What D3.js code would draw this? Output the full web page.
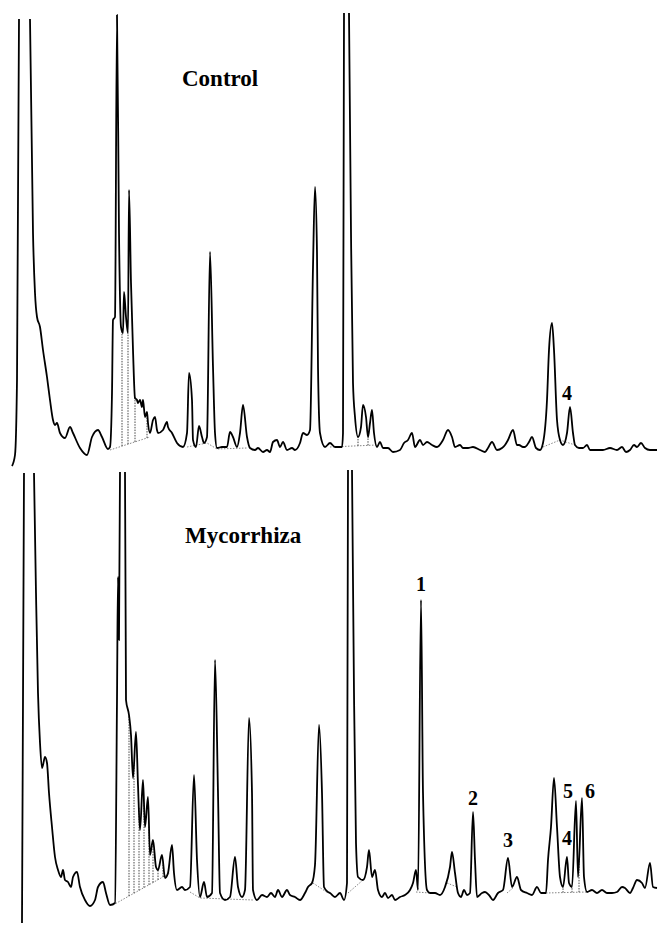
<!DOCTYPE html>
<html>
<head>
<meta charset="utf-8">
<script src="https://cdn.jsdelivr.net/npm/d3@7"></script>
<style>
  html, body { margin: 0; padding: 0; background: #fff; }
  svg { display: block; }
</style>
</head>
<body>
<svg id="chart"></svg>
<script>
const width = 658;
const height = 926;

// retention time (arbitrary units) and detector signal
// NaN = signal off scale (pen leaves the chart)
const controlTrace = [
  [12,4],[15,15],[17,90],[19,451],[24,NaN],[30,451],[33,237],[35,177],[37,153],[40,143],
  [43,120],[47,93],[50,70],[53,50],[55,45],[57,47],[60,37],[65,32],[70,43],[73,37],
  [80,22],[87,15],[92,33],[98,40],[102,33],[108,21],[110,23],[112,77],[113,150],[115,153],
  [117,455],[119,237],[121,143],[123,137],[124,178],[126,153],[128,137],[129,280],[131,187],[133,120],
  [135,72],[137,70],[138,67],[140,70],[142,63],[143,70],[145,53],[147,58],[148,47],[150,37],
  [153,50],[155,53],[157,40],[158,37],[163,40],[167,48],[168,43],[172,37],[177,27],[183,23],
  [187,37],[189,97],[192,70],[193,30],[196,23],[199,44],[202,33],[204,27],[207,33],[210,218],
  [213,103],[215,37],[217,22],[222,23],[227,23],[230,38],[233,33],[237,23],[240,37],[243,65],
  [247,33],[250,22],[255,20],[258,22],[263,18],[267,20],[270,18],[273,28],[277,30],[280,23],
  [283,28],[287,20],[292,22],[295,20],[300,27],[303,37],[307,35],[310,40],[313,203],[315,283],
  [317,217],[318,103],[320,37],[325,23],[330,27],[335,23],[342,23],[343,37],[344,457],[346,NaN],
  [349,457],[351,237],[353,87],[355,53],[358,33],[361,43],[363,65],[366,53],[368,33],[370,47],
  [372,60],[374,37],[377,23],[380,28],[383,22],[388,22],[393,18],[400,20],[404,27],[408,30],
  [412,37],[415,23],[420,30],[423,25],[427,28],[432,25],[437,23],[443,30],[448,40],[452,33],
  [455,23],[460,25],[463,22],[468,22],[473,23],[480,20],[485,18],[488,22],[492,28],[497,20],
  [502,22],[505,25],[508,30],[513,40],[517,25],[519,25],[523,23],[525,23],[529,28],[532,33],
  [536,22],[540,20],[543,27],[547,70],[549,120],[552,147],[554,120],[557,50],[560,30],[563,25],
  [567,37],[570,63],[573,37],[575,25],[579,22],[583,22],[587,25],[590,20],[597,20],[603,20],
  [610,22],[617,20],[622,23],[626,18],[630,20],[634,25],[637,23],[641,27],[645,22],[650,20],
  [657,20]
];

const mycorrhizaTrace = [
  [22,3],[23,226],[24,453],[29,NaN],[34,453],[36,333],[38,233],[40,183],[42,158],[43,161],
  [45,169],[47,163],[49,133],[52,99],[55,69],[58,56],[61,49],[63,56],[65,46],[68,44],
  [71,39],[73,49],[77,54],[80,39],[85,26],[90,20],[95,26],[98,39],[103,44],[106,33],
  [110,21],[115,23],[117,226],[118,349],[119,286],[120,454],[122,NaN],[125,454],[126,226],[129,211],
  [131,191],[133,148],[136,194],[138,141],[140,96],[143,146],[145,99],[148,129],[150,71],[153,86],
  [156,59],[158,56],[162,71],[165,48],[168,53],[172,81],[174,53],[177,36],[182,39],[185,36],
  [190,39],[194,151],[197,66],[200,29],[204,44],[207,29],[212,33],[215,266],[218,133],[220,33],
  [225,26],[230,29],[235,69],[238,39],[242,29],[245,36],[249,208],[252,133],[253,36],[257,26],
  [262,31],[267,29],[271,33],[275,29],[278,36],[282,29],[287,36],[290,31],[295,29],[300,26],
  [305,33],[308,39],[312,43],[315,61],[319,201],[322,133],[324,39],[328,34],[330,33],[335,29],
  [340,33],[344,26],[347,43],[348,456],[350,NaN],[352,456],[354,233],[356,83],[358,49],[363,46],
  [367,59],[369,76],[372,49],[375,56],[378,36],[382,29],[385,33],[388,28],[392,31],[395,26],
  [400,29],[405,31],[410,36],[413,43],[416,56],[418,36],[421,326],[423,133],[427,36],[430,33],
  [435,33],[440,31],[445,39],[450,59],[452,74],[455,53],[458,33],[461,29],[464,36],[467,31],
  [470,33],[473,114],[475,66],[477,29],[482,33],[485,34],[489,31],[493,26],[498,33],[503,36],
  [508,68],[512,39],[517,49],[521,36],[527,33],[532,31],[537,39],[541,33],[546,33],[548,66],
  [551,99],[554,148],[557,99],[560,49],[563,39],[567,69],[569,43],[572,39],[576,125],[578,49],
  [582,128],[584,49],[587,34],[592,36],[597,33],[602,36],[607,33],[612,33],[617,34],[622,39],
  [625,38],[630,33],[633,38],[637,46],[642,43],[645,38],[650,63],[653,39],[657,38]
];

// integrator baselines (dotted) and peak drop lines
const controlBaselines = [
  [[110,20],[150,33]],
  [[187,23],[207,27],[217,21],[247,22]],
  [[330,23],[377,25]],
  [[543,23],[560,30],[575,25]]
];
const controlDrops = [122,128,135,147,358,368];

const mycorrhizaBaselines = [
  [[113,21],[170,53]],
  [[190,34],[200,28],[253,26]],
  [[313,43],[328,33]],
  [[348,33],[363,46]],
  [[416,34],[430,33]],
  [[447,43],[457,39]],
  [[507,33],[513,38]],
  [[546,33],[587,34]]
];
const mycorrhizaDrops = [129,134,139,144,149,153,158,163,563,572,579];

// peak numbers: [label, time, signal]
const controlPeakLabels = [["4",567,70]];
const mycorrhizaPeakLabels = [
  ["1",421,335],["2",473,121],["3",508,79],["4",567,81],["5",568,128],["6",590,128]
];

const panelTitles = ["Control", "Mycorrhiza"];

const svg = d3.select("#chart")
  .attr("width", width)
  .attr("height", height);

const x = d3.scaleLinear().domain([0, 658]).range([0, 658]);
const yTop = d3.scaleLinear().domain([0, 470]).range([470, 0]);
const yBot = d3.scaleLinear().domain([0, 470]).range([926, 456]);

function interp(pts, t) {
  for (let i = 0; i < pts.length - 1; i++) {
    const a = pts[i], b = pts[i + 1];
    if (t >= a[0] && t <= b[0]) {
      if (isNaN(a[1]) || isNaN(b[1])) return NaN;
      return a[1] + (b[1] - a[1]) * (t - a[0]) / (b[0] - a[0]);
    }
  }
  return NaN;
}

function drawPanel(trace, baselines, drops, labels, title, y, titleY) {
  const g = svg.append("g");

  const base = d3.line()
    .x(d => x(d[0]))
    .y(d => y(d[1]));

  g.selectAll("path.base")
    .data(baselines)
    .enter()
    .append("path")
    .attr("class", "base")
    .attr("d", base)
    .attr("fill", "none")
    .attr("stroke", "#666")
    .attr("stroke-width", 0.8)
    .attr("stroke-dasharray", "1.5,1.5");

  g.selectAll("line.drop")
    .data(drops)
    .enter()
    .append("line")
    .attr("class", "drop")
    .attr("x1", d => x(d))
    .attr("x2", d => x(d))
    .attr("y1", d => {
      const bl = baselines.find(b => d >= b[0][0] && d <= b[b.length - 1][0]);
      return y(interp(bl, d));
    })
    .attr("y2", d => y(interp(trace, d)))
    .attr("stroke", "#333")
    .attr("stroke-width", 0.9)
    .attr("stroke-dasharray", "1.5,1.2");

  const line = d3.line()
    .defined(d => !isNaN(d[1]))
    .x(d => x(d[0]))
    .y(d => y(d[1]))
    .curve(d3.curveMonotoneX);

  g.append("path")
    .datum(trace)
    .attr("d", line)
    .attr("fill", "none")
    .attr("stroke", "#000")
    .attr("stroke-width", 1.8)
    .attr("stroke-linejoin", "round");

  g.append("text")
    .attr("x", x(title.x))
    .attr("y", titleY)
    .attr("font-family", "'Liberation Serif', 'Times New Roman', serif")
    .attr("font-weight", "bold")
    .attr("font-size", 23)
    .text(title.text);

  g.selectAll("text.peak")
    .data(labels)
    .enter()
    .append("text")
    .attr("class", "peak")
    .attr("x", d => x(d[1]))
    .attr("y", d => y(d[2]))
    .attr("text-anchor", "middle")
    .attr("font-family", "'Liberation Serif', 'Times New Roman', serif")
    .attr("font-weight", "bold")
    .attr("font-size", 20)
    .text(d => d[0]);
}

drawPanel(controlTrace, controlBaselines, controlDrops, controlPeakLabels,
  { text: panelTitles[0], x: 182 }, yTop, 86);
drawPanel(mycorrhizaTrace, mycorrhizaBaselines, mycorrhizaDrops, mycorrhizaPeakLabels,
  { text: panelTitles[1], x: 185 }, yBot, 543);
</script>
</body>
</html>
